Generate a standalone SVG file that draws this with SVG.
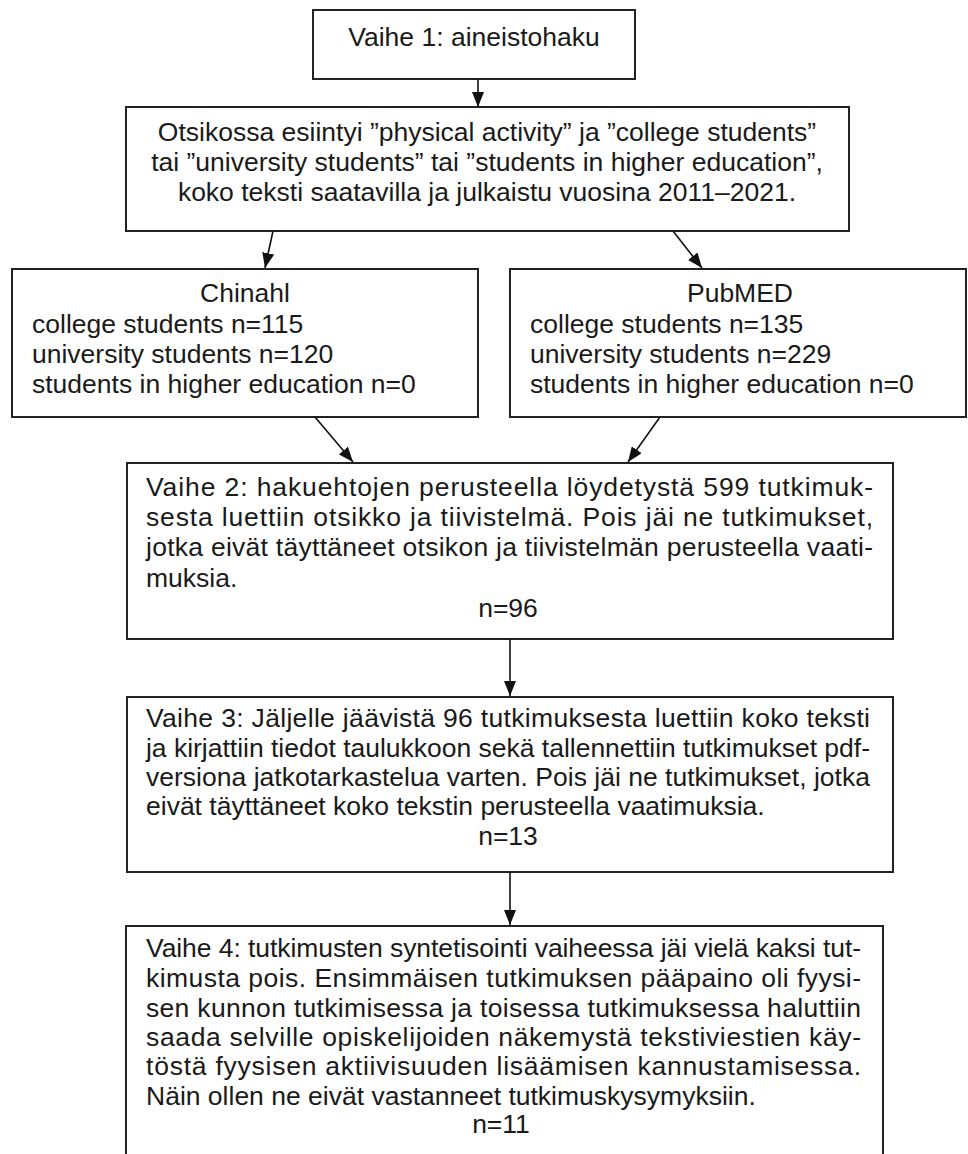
<svg xmlns="http://www.w3.org/2000/svg" width="968" height="1154" viewBox="0 0 968 1154">
<style>
  .box { fill: #ffffff; stroke: #222222; stroke-width: 2; }
  .t { font-family: "Liberation Sans", Arial, sans-serif; font-size: 26.5px; fill: #1a1a1a; }
  .c { text-anchor: middle; }
  .conn line { stroke: #111111; stroke-width: 1.6; marker-end: url(#arr); }
</style>
<defs>
  <marker id="arr" markerUnits="userSpaceOnUse" markerWidth="15" markerHeight="12" refX="15" refY="6" orient="auto">
    <path d="M0,0 L15,6 L0,12 z" fill="#111111"/>
  </marker>
</defs>
<rect x="0" y="0" width="968" height="1154" fill="#ffffff"/>

<g id="vaihe1">
  <rect class="box" x="313" y="10" width="322" height="69"/>
  <text class="t c" x="474" y="46">Vaihe 1: aineistohaku</text>
</g>

<g id="haku">
  <rect class="box" x="126" y="107" width="723" height="124"/>
  <text class="t c" x="487" y="141">Otsikossa esiintyi ”physical activity” ja ”college students”</text>
  <text class="t c" x="487" y="171">tai ”university students” tai ”students in higher education”,</text>
  <text class="t c" x="487" y="201">koko teksti saatavilla ja julkaistu vuosina 2011–2021.</text>
</g>

<g id="chinahl">
  <rect class="box" x="12" y="269" width="466" height="148"/>
  <text class="t c" x="245" y="302">Chinahl</text>
  <text class="t" x="32" y="333">college students n=115</text>
  <text class="t" x="32" y="363">university students n=120</text>
  <text class="t" x="32" y="393">students in higher education n=0</text>
</g>

<g id="pubmed">
  <rect class="box" x="510" y="269" width="456" height="148"/>
  <text class="t c" x="740" y="302">PubMED</text>
  <text class="t" x="530" y="333">college students n=135</text>
  <text class="t" x="530" y="363">university students n=229</text>
  <text class="t" x="530" y="393">students in higher education n=0</text>
</g>

<g id="vaihe2">
  <rect class="box" x="127" y="463" width="766" height="176"/>
  <text class="t" x="146" y="496" textLength="727" lengthAdjust="spacing">Vaihe 2: hakuehtojen perusteella löydetystä 599 tutkimuk-</text>
  <text class="t" x="146" y="526" textLength="727" lengthAdjust="spacing">sesta luettiin otsikko ja tiivistelmä. Pois jäi ne tutkimukset,</text>
  <text class="t" x="146" y="556" textLength="727" lengthAdjust="spacing">jotka eivät täyttäneet otsikon ja tiivistelmän perusteella vaati-</text>
  <text class="t" x="146" y="587">muksia.</text>
  <text class="t c" x="508" y="617">n=96</text>
</g>

<g id="vaihe3">
  <rect class="box" x="127" y="697" width="766" height="175"/>
  <text class="t" x="146" y="727" textLength="724" lengthAdjust="spacing">Vaihe 3: Jäljelle jäävistä 96 tutkimuksesta luettiin koko teksti</text>
  <text class="t" x="146" y="757" textLength="724" lengthAdjust="spacing">ja kirjattiin tiedot taulukkoon sekä tallennettiin tutkimukset pdf-</text>
  <text class="t" x="146" y="786" textLength="724" lengthAdjust="spacing">versiona jatkotarkastelua varten. Pois jäi ne tutkimukset, jotka</text>
  <text class="t" x="146" y="815">eivät täyttäneet koko tekstin perusteella vaatimuksia.</text>
  <text class="t c" x="508" y="845">n=13</text>
</g>

<g id="vaihe4">
  <rect class="box" x="126" y="926" width="757" height="260"/>
  <text class="t" x="146" y="957" textLength="715" lengthAdjust="spacing">Vaihe 4: tutkimusten syntetisointi vaiheessa jäi vielä kaksi tut-</text>
  <text class="t" x="146" y="987" textLength="715" lengthAdjust="spacing">kimusta pois. Ensimmäisen tutkimuksen pääpaino oli fyysi-</text>
  <text class="t" x="146" y="1017" textLength="715" lengthAdjust="spacing">sen kunnon tutkimisessa ja toisessa tutkimuksessa haluttiin</text>
  <text class="t" x="146" y="1046" textLength="715" lengthAdjust="spacing">saada selville opiskelijoiden näkemystä tekstiviestien käy-</text>
  <text class="t" x="146" y="1075" textLength="715" lengthAdjust="spacing">töstä fyysisen aktiivisuuden lisäämisen kannustamisessa.</text>
  <text class="t" x="146" y="1105">Näin ollen ne eivät vastanneet tutkimuskysymyksiin.</text>
  <text class="t c" x="501" y="1133">n=11</text>
</g>

<g id="connectors" class="conn">
  <line x1="478" y1="79" x2="478" y2="107"/>
  <line x1="273" y1="231" x2="265" y2="268"/>
  <line x1="673" y1="231" x2="702" y2="268"/>
  <line x1="315" y1="417" x2="353" y2="462"/>
  <line x1="660" y1="417" x2="628" y2="462"/>
  <line x1="510" y1="639" x2="510" y2="696"/>
  <line x1="510" y1="872" x2="510" y2="925"/>
</g>
</svg>
